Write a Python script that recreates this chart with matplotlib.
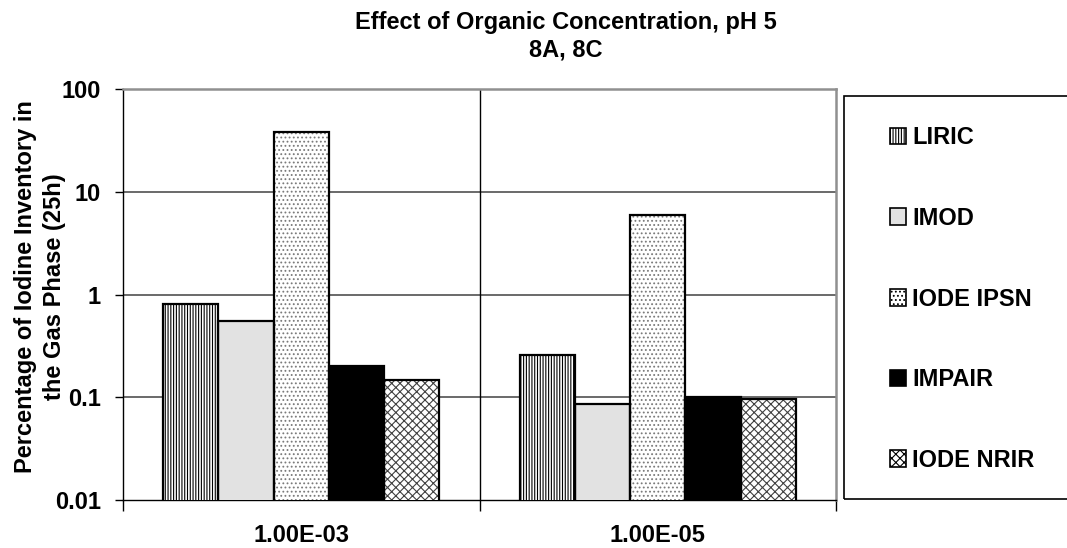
import matplotlib
matplotlib.use("Agg")
import matplotlib.pyplot as plt
from matplotlib.patches import Rectangle, Patch
import numpy as np

categories = ["1.00E-03", "1.00E-05"]
series_names = ["LIRIC", "IMOD", "IODE IPSN", "IMPAIR", "IODE NRIR"]
liric = [0.81, 0.26]
imod = [0.55, 0.086]
iode_ipsn = [38.0, 6.0]
impair = [0.20, 0.10]
iode_nrir = [0.147, 0.097]
values = [liric, imod, iode_ipsn, impair, iode_nrir]
y_ticks = [0.01, 0.1, 1, 10, 100]
y_tick_labels = ["0.01", "0.1", "1", "10", "100"]

faces = ["white", "#e2e2e2", "white", "black", "white"]
hatch_cols = ["black", "#c8c8c8", "#7a7a7a", "black", "#404040"]
hatches = ["||||||", None, "....", None, "xxxx"]

plt.rcParams['font.family'] = ['Liberation Sans', 'DejaVu Sans']
plt.rcParams['font.weight'] = 'bold'
plt.rcParams['hatch.linewidth'] = 0.8

FS = 17
fig = plt.figure(figsize=(10.67, 5.48), dpi=100)
ax = fig.add_axes([123/1067, 1-500/548, (836-123)/1067, (500-89)/548])

x = np.arange(len(categories))
bw = 0.155
n = len(series_names)
for i in range(n):
    pos = x + (i - (n-1)/2) * bw
    ax.bar(pos, values[i], bw, color=faces[i], edgecolor=hatch_cols[i],
           hatch=hatches[i], linewidth=0, zorder=3)
    ax.bar(pos, values[i], bw, fill=False, edgecolor="black",
           linewidth=1.6, zorder=4)

ax.set_yscale('log')
ax.set_ylim(0.01, 100)
ax.set_xlim(-0.5, 1.5)
ax.set_yticks(y_ticks)
ax.set_yticklabels(y_tick_labels, fontsize=FS, fontweight='bold')
ax.yaxis.set_minor_locator(matplotlib.ticker.NullLocator())
ax.tick_params(axis='y', which='major', direction='out', length=6, width=1, pad=10)

ax.set_xticks(x)
ax.set_xticklabels(categories, fontsize=FS, fontweight='bold')
ax.tick_params(axis='x', which='major', length=0, pad=17)
ax.set_xticks([-0.5, 0.5, 1.5], minor=True)
ax.tick_params(axis='x', which='minor', direction='out', length=8, width=1)

for yv in y_ticks[1:-1]:
    ax.axhline(yv, color="#505050", lw=1.2, zorder=1)
ax.axvline(0.5, color="black", lw=1.0, zorder=1)

ax.spines['left'].set_color('black')
ax.spines['bottom'].set_color('black')
ax.spines['left'].set_linewidth(1.0)
ax.spines['bottom'].set_linewidth(1.0)
ax.spines['top'].set_color('#909090')
ax.spines['right'].set_color('#909090')
ax.spines['top'].set_linewidth(1.8)
ax.spines['right'].set_linewidth(1.8)

fig.text(566/1067, 1-22/548, "Effect of Organic Concentration, pH 5", ha='center', va='center',
         fontsize=FS, fontweight='bold')
fig.text(566/1067, 1-50/548, "8A, 8C", ha='center', va='center', fontsize=FS, fontweight='bold')

fig.text(40/1067, 1-287/548, "Percentage of Iodine Inventory in\nthe Gas Phase (25h)",
         rotation=90, ha='center', va='center', fontsize=FS, fontweight='bold', linespacing=1.35)

# legend box (runs past the right edge, as in the reference)
fig.patches.append(Rectangle((844/1067, 1-499/548), (1080-844)/1067, (499-96)/548,
                             transform=fig.transFigure, fill=False, edgecolor='black', lw=1.2))
handles = [Patch(facecolor=faces[i], edgecolor='black', hatch=hatches[i], linewidth=1.2)
           for i in range(n)]
leg = fig.legend(handles, series_names, loc='center left',
                 bbox_to_anchor=(878/1067, 1-299/548), frameon=False,
                 prop={'size': FS, 'weight': 'bold'}, labelspacing=2.44,
                 handlelength=0.7, handleheight=0.7, handletextpad=0.25, borderpad=0)

fig.savefig("out.png", dpi=100)
